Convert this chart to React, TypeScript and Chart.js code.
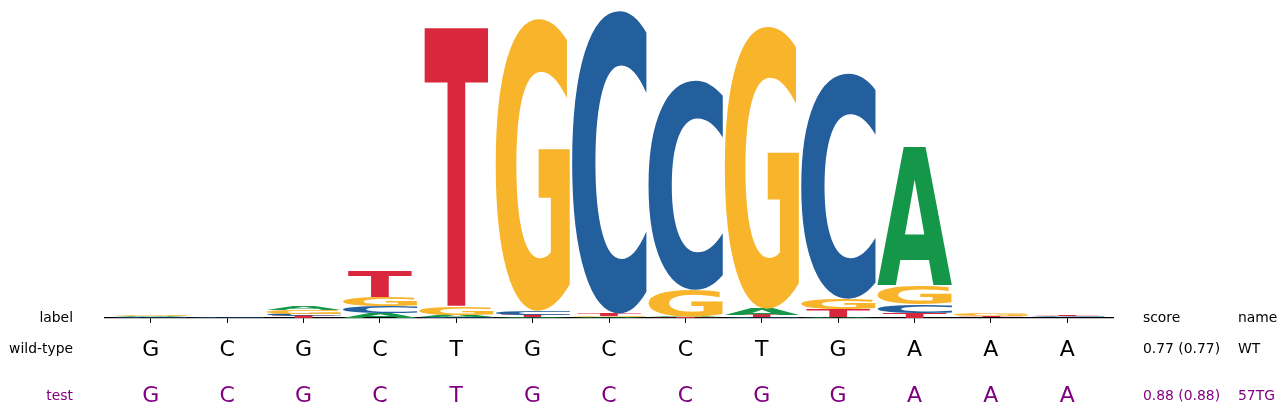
import { useEffect, useRef } from "react";
import { Chart, registerables } from "chart.js";

Chart.register(...registerables);

// logo positions (0-based) and letter heights in bits
const positions = [0, 1, 2, 3, 4, 5, 6, 7, 8, 9, 10, 11, 12];
const heightA = [0.006, 0.001, 0.025, 0.03, 0.012, 0.007, 0.006, 0.006, 0.04, 0.005, 0.891, 0.002, 0.002];
const heightC = [0.004, 0.004, 0.015, 0.047, 0.005, 0.026, 1.96, 1.355, 0.006, 1.458, 0.055, 0.003, 0.006];
const heightG = [0.008, 0.0015, 0.022, 0.06, 0.05, 1.89, 0.007, 0.17, 1.826, 0.068, 0.125, 0.012, 0.0025];
const heightT = [0.001, 0.0005, 0.013, 0.166, 1.804, 0.012, 0.014, 0.004, 0.012, 0.05, 0.032, 0.006, 0.008];

const wildType = ["G", "C", "G", "C", "T", "G", "C", "C", "T", "G", "A", "A", "A"];
const testSeq = ["G", "C", "G", "C", "T", "G", "C", "C", "G", "G", "A", "A", "A"];
const rowLabels = ["label", "wild-type", "test"];
const headers = ["score", "name"];
const scores = ["0.77 (0.77)", "0.88 (0.88)"];
const names = ["WT", "57TG"];

const bases = ["A", "C", "G", "T"];
const letterColors: Record<string, string> = {
  A: "#15974a",
  C: "#235f9c",
  G: "#f8b42a",
  T: "#d9283d",
};
const testColor = "#800080";

function buildDatasets() {
  const byBase: Record<string, number[]> = { A: heightA, C: heightC, G: heightG, T: heightT };
  // smallest letter at the bottom of each stack
  const stacks = positions.map((_, i) =>
    bases.map((b) => ({ b, h: byBase[b][i] })).sort((p, q) => p.h - q.h)
  );
  return [0, 1, 2, 3].map((r) => ({
    label: "rank" + r,
    stack: "logo",
    data: positions.map((p, i) => ({ x: p, y: stacks[i][r].h })),
    letters: positions.map((_, i) => stacks[i][r].b),
    backgroundColor: "rgba(0,0,0,0)",
    borderWidth: 0,
    categoryPercentage: 1,
    barPercentage: 1,
  }));
}

// draws each letter stretched into its bar rectangle
const glyphPlugin = {
  id: "glyphs",
  afterDatasetsDraw(chart: any) {
    const { ctx } = chart;
    ctx.save();
    ctx.font = "bold 200px 'DejaVu Sans'";
    ctx.textAlign = "left";
    ctx.textBaseline = "alphabetic";
    chart.data.datasets.forEach((ds: any, di: number) => {
      const meta = chart.getDatasetMeta(di);
      meta.data.forEach((el: any, i: number) => {
        const { x, y, base, width } = el.getProps(["x", "y", "base", "width"], true);
        const h = base - y;
        if (!(h > 0)) return;
        const letter = ds.letters[i];
        const m = ctx.measureText(letter);
        const gw = m.actualBoundingBoxLeft + m.actualBoundingBoxRight;
        const gh = m.actualBoundingBoxAscent + m.actualBoundingBoxDescent;
        const bw = width * (letter === "T" ? 0.84 : 0.98);
        ctx.save();
        ctx.translate(x - bw / 2, y);
        ctx.scale(bw / gw, h / gh);
        ctx.fillStyle = letterColors[letter];
        ctx.fillText(letter, m.actualBoundingBoxLeft, m.actualBoundingBoxAscent);
        ctx.restore();
      });
    });
    ctx.restore();
  },
};

// sequence rows, row labels and score / name columns
const rowsPlugin = {
  id: "rows",
  afterDraw(chart: any) {
    const { ctx, chartArea } = chart;
    const xs = chart.scales.x;
    const b = chartArea.bottom;
    const rowY = [b + 4, b + 35, b + 81.5];
    const seqY = [b + 37.5, b + 83.5];
    const labelX = chartArea.left - 32;
    const scoreX = chartArea.right + 30;
    const nameX = chartArea.right + 125;
    ctx.save();
    ctx.textBaseline = "alphabetic";
    ctx.font = "13.9px 'DejaVu Sans'";
    ctx.textAlign = "right";
    rowLabels.forEach((t, i) => {
      ctx.fillStyle = i === 2 ? testColor : "#000";
      ctx.fillText(t, labelX, rowY[i]);
    });
    ctx.textAlign = "left";
    ctx.fillStyle = "#000";
    ctx.fillText(headers[0], scoreX, rowY[0]);
    ctx.fillText(headers[1], nameX, rowY[0]);
    scores.forEach((s, i) => {
      ctx.fillStyle = i === 1 ? testColor : "#000";
      ctx.fillText(s, scoreX, rowY[i + 1]);
      ctx.fillText(names[i], nameX, rowY[i + 1]);
    });
    ctx.font = "22px 'DejaVu Sans'";
    ctx.textAlign = "center";
    [wildType, testSeq].forEach((seq, r) => {
      ctx.fillStyle = r === 1 ? testColor : "#000";
      seq.forEach((c, i) => ctx.fillText(c, xs.getPixelForValue(positions[i]), seqY[r]));
    });
    ctx.restore();
  },
};

export default function App() {
  const ref = useRef<HTMLCanvasElement | null>(null);

  useEffect(() => {
    if (!ref.current) return;
    const chart = new Chart(ref.current, {
      type: "bar",
      data: { datasets: buildDatasets() as any },
      options: {
        animation: false,
        responsive: true,
        maintainAspectRatio: false,
        layout: { padding: { left: 97, right: 166, top: 0, bottom: 84 } },
        plugins: { legend: { display: false }, tooltip: { enabled: false } },
        scales: {
          x: {
            type: "linear",
            min: -0.6,
            max: 12.6,
            offset: false,
            stacked: true,
            grid: {
              offset: false,
              drawOnChartArea: false,
              drawTicks: true,
              tickLength: 5,
              tickColor: "#000",
              tickWidth: 1,
            },
            border: { display: true, color: "#000", width: 1.3 },
            ticks: { display: false },
            afterBuildTicks: (scale: any) => {
              scale.ticks = positions.map((v) => ({ value: v }));
            },
            afterFit: (scale: any) => {
              scale.height = 5;
            },
          },
          y: { display: false, min: 0, max: 2, stacked: true },
        },
      },
      plugins: [glyphPlugin, rowsPlugin],
    });
    return () => chart.destroy();
  }, []);

  return (
    <div style={{ position: "relative", width: 1271, height: 399 }}>
      <canvas ref={ref} />
    </div>
  );
}
